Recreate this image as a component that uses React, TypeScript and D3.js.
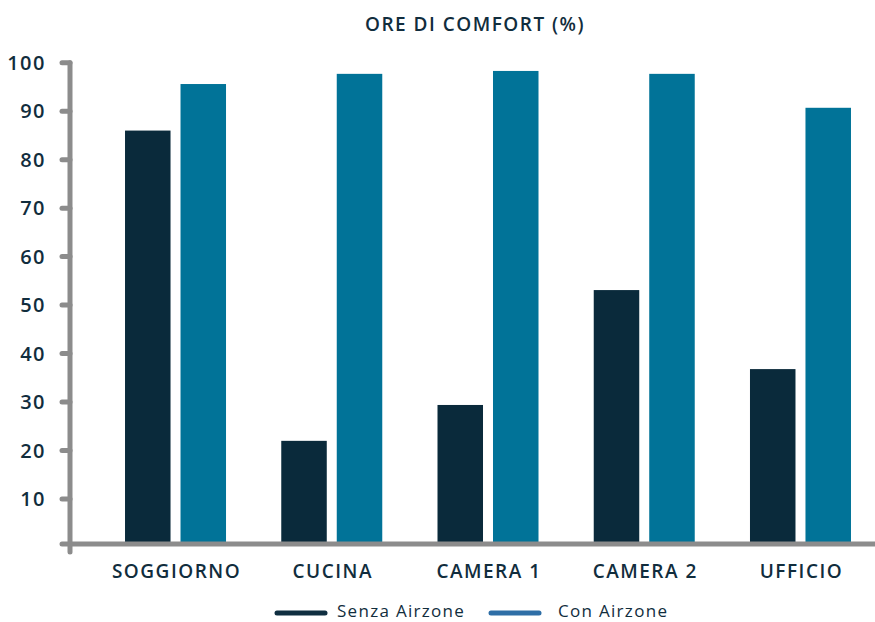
import { useEffect, useRef } from "react";
import * as d3 from "d3";

const CATEGORIES = ["SOGGIORNO", "CUCINA", "CAMERA 1", "CAMERA 2", "UFFICIO"];
const SERIES = ["Senza Airzone", "Con Airzone"];
const SENZA_VALUES = [86, 22, 29.4, 53.1, 36.8];
const CON_VALUES = [95.6, 97.7, 98.3, 97.7, 90.7];
const Y_TICKS = [10, 20, 30, 40, 50, 60, 70, 80, 90, 100];

const BAR_COLORS = ["#0a2a3b", "#017398"];
const LEGEND_COLORS = ["#0f2e40", "#2e6ea6"];
const TEXT_COLOR = "#112d3d";
const AXIS_COLOR = "#8c8c8c";
const FONT = "'Open Sans', sans-serif";

const WIDTH = 875;
const HEIGHT = 622;

export default function App() {
  const svgRef = useRef<SVGSVGElement | null>(null);

  useEffect(() => {
    const svgElement = svgRef.current;
    if (!svgElement) return;

    const svg = d3.select(svgElement);
    svg.selectAll("*").remove();

    const axisX = 70;
    const baseY = 544;

    const x0 = d3.scaleBand<string>().domain(CATEGORIES).range([97.4, 878.6]).padding(0);
    const groupWidth = 101;
    const x1 = d3.scaleBand<string>().domain(SERIES).range([0, groupWidth]).paddingInner(0.18);
    const y = d3.scaleLinear().domain([0, 100]).range([547.5, 62.7]);

    const rows = CATEGORIES.map((cat, i) => ({
      cat,
      values: [SENZA_VALUES[i], CON_VALUES[i]],
    }));

    // title
    svg
      .append("text")
      .attr("x", 475)
      .attr("y", 31)
      .attr("text-anchor", "middle")
      .attr("font-family", FONT)
      .attr("font-size", 19)
      .attr("font-weight", 600)
      .attr("letter-spacing", 1.5)
      .attr("fill", TEXT_COLOR)
      .text("ORE DI COMFORT (%)");

    // bars
    const groups = svg
      .selectAll("g.group")
      .data(rows)
      .join("g")
      .attr("class", "group")
      .attr(
        "transform",
        (d) => `translate(${(x0(d.cat) ?? 0) + x0.bandwidth() / 2 - groupWidth / 2},0)`
      );

    groups
      .selectAll("rect")
      .data((d) => d.values.map((v, i) => ({ v, s: SERIES[i], i })))
      .join("rect")
      .attr("x", (d) => x1(d.s) ?? 0)
      .attr("width", x1.bandwidth())
      .attr("y", (d) => y(d.v))
      .attr("height", (d) => baseY - y(d.v))
      .attr("fill", (d) => BAR_COLORS[d.i]);

    // y axis
    const axis = svg.append("g").attr("stroke", AXIS_COLOR).attr("stroke-linecap", "round");
    axis
      .append("line")
      .attr("x1", axisX)
      .attr("x2", axisX)
      .attr("y1", y(100))
      .attr("y2", 552)
      .attr("stroke-width", 5);
    axis
      .append("line")
      .attr("x1", 62)
      .attr("x2", WIDTH + 5)
      .attr("y1", baseY)
      .attr("y2", baseY)
      .attr("stroke-width", 5);
    axis
      .selectAll("line.tick")
      .data(Y_TICKS)
      .join("line")
      .attr("class", "tick")
      .attr("x1", 62)
      .attr("x2", axisX)
      .attr("y1", (d) => y(d))
      .attr("y2", (d) => y(d))
      .attr("stroke-width", 5);

    svg
      .append("g")
      .selectAll("text")
      .data(Y_TICKS)
      .join("text")
      .attr("x", 46)
      .attr("y", (d) => y(d))
      .attr("dy", "0.36em")
      .attr("text-anchor", "end")
      .attr("font-family", FONT)
      .attr("font-size", 20)
      .attr("font-weight", 600)
      .attr("letter-spacing", 1.5)
      .attr("fill", TEXT_COLOR)
      .text((d) => d);

    // category labels
    svg
      .append("g")
      .selectAll("text")
      .data(CATEGORIES)
      .join("text")
      .attr("x", (d) => (x0(d) ?? 0) + x0.bandwidth() / 2 + 1)
      .attr("y", 578)
      .attr("text-anchor", "middle")
      .attr("font-family", FONT)
      .attr("font-size", 19)
      .attr("font-weight", 600)
      .attr("letter-spacing", 1.5)
      .attr("fill", TEXT_COLOR)
      .text((d) => d);

    // legend
    const legendX = [275, 489];
    const legend = svg
      .append("g")
      .selectAll("g")
      .data(SERIES)
      .join("g")
      .attr("transform", (_, i) => `translate(${legendX[i]},0)`);
    legend
      .append("line")
      .attr("x1", 2)
      .attr("x2", 50)
      .attr("y1", 613)
      .attr("y2", 613)
      .attr("stroke", (_, i) => LEGEND_COLORS[i])
      .attr("stroke-width", 5)
      .attr("stroke-linecap", "round");
    legend
      .append("text")
      .attr("x", (_, i) => (i === 0 ? 62 : 69))
      .attr("y", 617)
      .attr("font-family", FONT)
      .attr("font-size", 17)
      .attr("font-weight", 500)
      .attr("letter-spacing", 1.3)
      .attr("fill", TEXT_COLOR)
      .text((d) => d);
  }, []);

  return (
    <div style={{ position: "absolute", left: 0, top: 0, background: "#fff" }}>
      <svg ref={svgRef} width={WIDTH} height={HEIGHT} style={{ display: "block" }} />
    </div>
  );
}
